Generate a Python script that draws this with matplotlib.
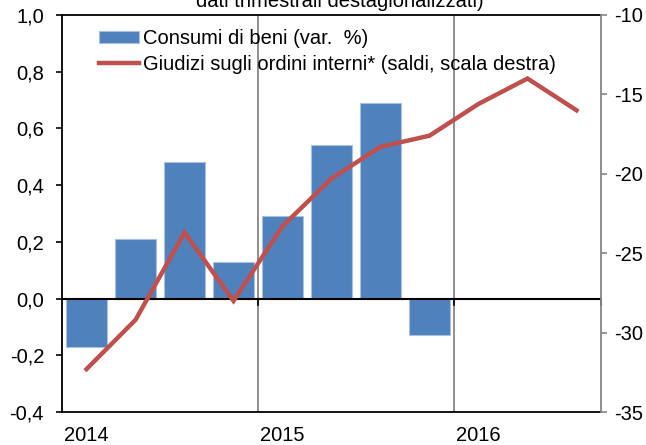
import matplotlib
matplotlib.use('Agg')
import matplotlib.pyplot as plt
import numpy as np

plt.rcParams['font.family'] = ['Liberation Sans', 'DejaVu Sans']

quarters = ['2014Q1', '2014Q2', '2014Q3', '2014Q4',
            '2015Q1', '2015Q2', '2015Q3', '2015Q4',
            '2016Q1', '2016Q2', '2016Q3']
consumi = [-0.17, 0.21, 0.48, 0.13, 0.29, 0.54, 0.69, -0.13]
giudizi = [-32.3, -29.2, -23.7, -28.0, -23.3, -20.3, -18.3, -17.6, -15.6, -14.0, -16.0]
left_ticks = [-0.4, -0.2, 0.0, 0.2, 0.4, 0.6, 0.8, 1.0]
right_ticks = [-35, -30, -25, -20, -15, -10]
label_bar = 'Consumi di beni (var.  %)'
label_line = 'Giudizi sugli ordini interni* (saldi, scala destra)'
title_text = 'dati trimestrali destagionalizzati)'

FS = 14.5
BLUE = '#4F81BD'
RED = '#C0504D'
GRAY = '#868686'

fig = plt.figure(figsize=(6.46, 4.45), dpi=100)
ax = fig.add_axes([62/646, 1-412/445, (601-62)/646, (412-15)/445])
ax2 = ax.twinx()

x = np.arange(len(quarters))
xb = x[:len(consumi)]
bars = ax.bar(xb, consumi, width=0.82, color=BLUE, edgecolor='#a9c1df', linewidth=0.8, zorder=2)

ax.set_xlim(-0.5, len(quarters) - 0.5)
ax.set_ylim(-0.4, 1.0)
ax.set_yticks(left_ticks)
ax.set_yticklabels([f'{v:.1f}'.replace('.', ',') for v in left_ticks], fontsize=FS)

# year boundaries
year_starts = [i for i, q in enumerate(quarters) if q.endswith('Q1')]
for i in year_starts[1:]:
    ax.axvline(i - 0.5, color=GRAY, lw=1.3, zorder=1)
ax.axhline(0, color='black', lw=1.5, zorder=3)
for i in year_starts[1:] + [len(quarters)]:
    ax.plot([i - 0.5, i - 0.5], [0, -0.022], color='black', lw=1.2, clip_on=False, zorder=3)

ax.set_xticks(year_starts)
ax.set_xticklabels([quarters[i][:4] for i in year_starts], fontsize=FS)
ax.tick_params(axis='x', length=0, pad=10)
ax.tick_params(axis='y', direction='out', length=4.3, width=1.2, pad=8.6, colors='black')

for s in ['left', 'bottom', 'top']:
    ax.spines[s].set_color('black')
    ax.spines[s].set_linewidth(1.3)
ax.spines['right'].set_visible(False)

line, = ax2.plot(x, giudizi, color=RED, lw=3.2, solid_joinstyle='miter', zorder=4)
ax2.set_ylim(-35, -10)
ax2.set_yticks(right_ticks)
ax2.set_yticklabels([str(v) for v in right_ticks], fontsize=FS)
ax2.tick_params(axis='y', direction='out', length=4.3, width=1.2, pad=5.5, color=GRAY, labelcolor='black')
ax2.spines['right'].set_color(GRAY)
ax2.spines['right'].set_linewidth(1.3)
for s in ['left', 'bottom', 'top']:
    ax2.spines[s].set_visible(False)

leg = ax2.legend([bars, line], [label_bar, label_line], loc='upper left',
                 bbox_to_anchor=(99/646, 1-29/445), bbox_transform=fig.transFigure,
                 frameon=False, fontsize=FS, handlelength=2.0, handleheight=0.55,
                 handletextpad=0.2, labelspacing=0.33, borderpad=0, borderaxespad=0)

fig.text(340/646, 1-7/445, title_text, ha='center', va='baseline', fontsize=FS)

fig.savefig('out.png', dpi=100)
